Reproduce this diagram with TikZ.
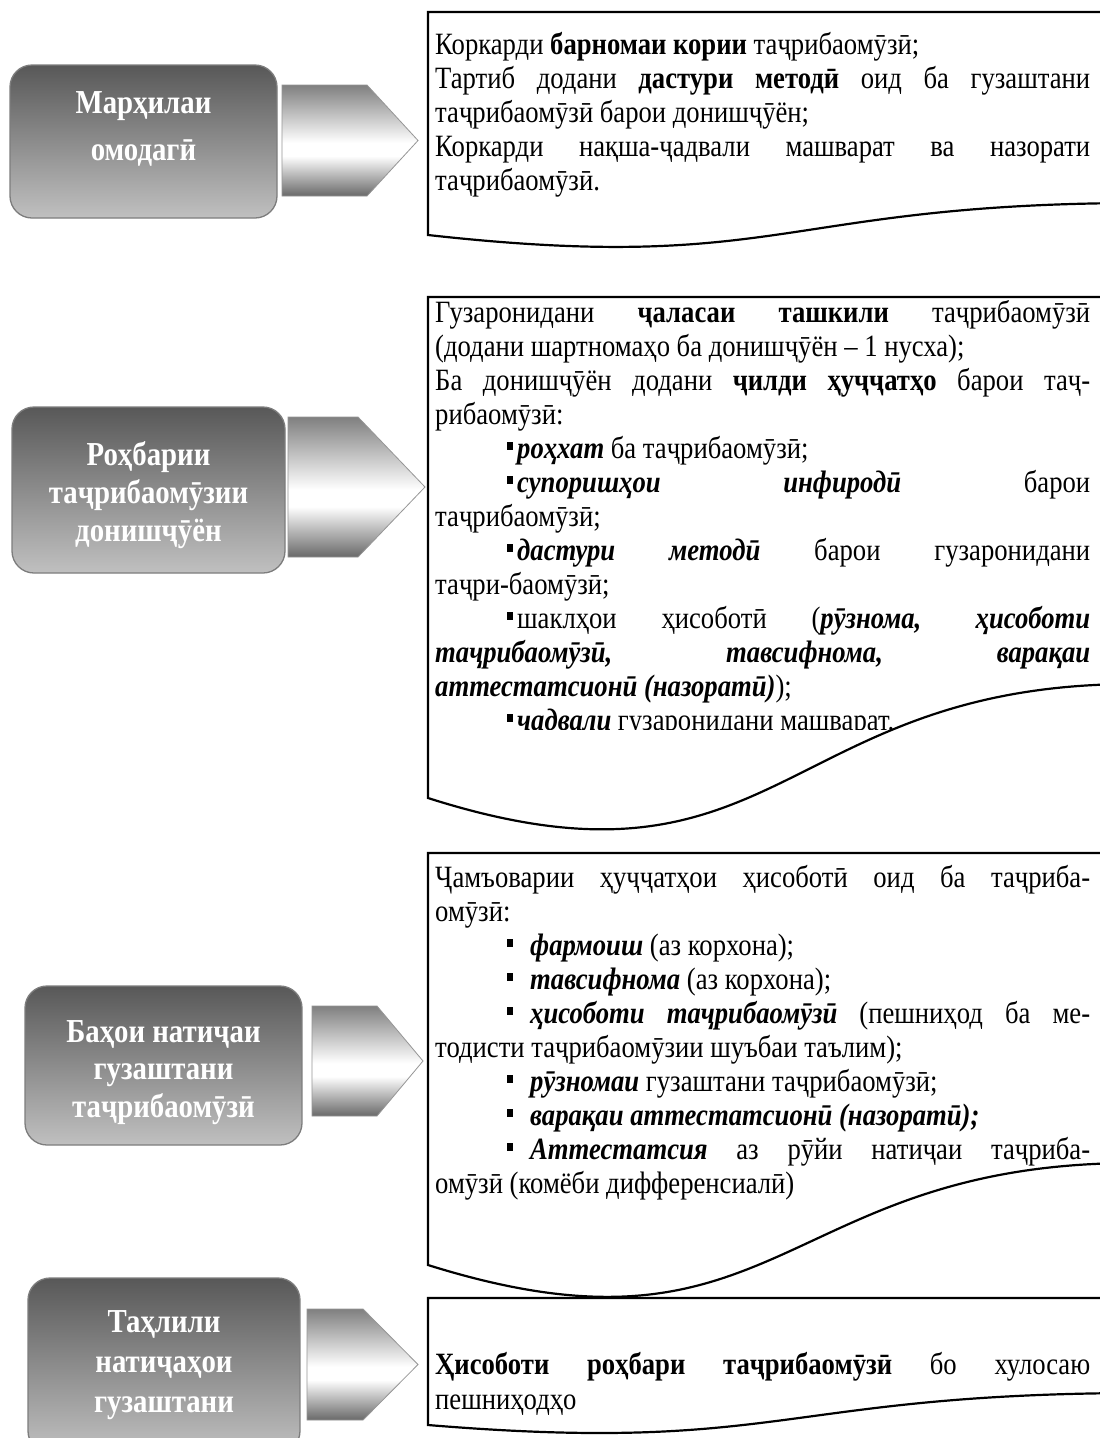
\documentclass[tikz,border=0pt]{standalone}
\usepackage{fontspec}
\setmainfont{Liberation Serif}[FakeStretch=0.86]
\definecolor{boxtop}{RGB}{88,88,88}
\definecolor{boxbot}{RGB}{192,192,192}
\definecolor{boxline}{RGB}{125,125,125}
\definecolor{arrdk}{RGB}{105,105,105}
\definecolor{arrline}{RGB}{150,150,150}
\pgfdeclareverticalshading{arrshade}{100bp}{color(0bp)=(arrdk); color(25bp)=(arrdk); color(43bp)=(white); color(49bp)=(white); color(75bp)=(arrdk!85!white); color(100bp)=(arrdk!85!white)}
\newlength\tw
\setlength\tw{655pt}
\newcommand\jl[1]{\hbox to\tw{#1}}
\newcommand\rl[1]{\hbox to\tw{#1\hfil}}
\newcommand\ind{\hspace*{72pt}}
\newcommand\sqa{\rule[8pt]{6pt}{8pt}\hspace{4pt}}
\newcommand\sqb{\rule[8pt]{6pt}{8pt}\hspace{17pt}}
\newcommand\bi[1]{{\bfseries\itshape #1}}
\newcommand\stk[1]{\vtop{\halign{\hfil##\hfil\cr#1\crcr}}}
\newcommand\para[1]{\vtop{\lineskiplimit=-30pt #1}}
\tikzset{
  stagebox/.style={draw=boxline, line width=1.3pt, rounded corners=22pt, top color=boxtop, bottom color=boxbot, inner sep=0pt},
  stagetext/.style={anchor=base, inner sep=0pt, text=white, font=\bfseries\fontsize{33.5}{#1}\selectfont},
  arrowshape/.style={draw=arrline, line width=0.8pt, shading=arrshade},
  docbox/.style={draw=black, line width=2.2pt, line join=miter},
  rtext/.style={anchor=base west, inner sep=0pt, font=\fontsize{31}{34}\selectfont}
}
\begin{document}
\begin{tikzpicture}[x=1pt,y=-1pt]
\fill[white] (0,0) rectangle (1100,1438);
\useasboundingbox (0,0) rectangle (1100,1438);

% ---------- stage boxes ----------
\node[stagebox, minimum width=267pt, minimum height=153pt] (s1) at (143.5,141.5) {};
\node[stagebox, minimum width=273pt, minimum height=166pt] (s2) at (148.5,490) {};
\node[stagebox, minimum width=277pt, minimum height=159pt] (s3) at (163.5,1065.5) {};
\node[stagebox, minimum width=272pt, minimum height=175pt] (s4) at (164,1365.5) {};

\node[stagetext=47] (t1) at (143.5,113) {\stk{Марҳилаи\cr омодагӣ}};
\node[stagetext=38] (t2) at (148.5,465) {\stk{Роҳбарии\cr таҷрибаомӯзии\cr донишҷӯён}};
\node[stagetext=37.5] (t3) at (163.5,1042) {\stk{Баҳои натиҷаи\cr гузаштани\cr таҷрибаомӯзӣ}};
\node[stagetext=40] (t4) at (164,1332) {\stk{Таҳлили\cr натиҷаҳои\cr гузаштани}};

% ---------- block arrows ----------
\path[arrowshape] (282,85) -- (367,85) -- (418,140.5) -- (367,196) -- (282,196) -- cycle;
\path[arrowshape] (288,417) -- (358,417) -- (425,487) -- (358,557) -- (288,557) -- cycle;
\path[arrowshape] (312,1006) -- (377,1006) -- (423,1061) -- (377,1116) -- (312,1116) -- cycle;
\path[arrowshape] (307,1309) -- (363,1309) -- (418,1364.5) -- (363,1420) -- (307,1420) -- cycle;

% ---------- document boxes ----------
\draw[docbox] (1130,12) -- (428,12) -- (428,235) .. controls (779,274) and (779,205) .. (1130,203) -- cycle;
\draw[docbox] (1130,297) -- (428,297) -- (428,798) .. controls (779,910) and (779,686) .. (1130,684) -- cycle;
\draw[docbox] (1130,853) -- (428,853) -- (428,1265) .. controls (779,1375) and (779,1165) .. (1130,1163) -- cycle;
\draw[docbox] (1130,1298) -- (428,1298) -- (428,1425) .. controls (779,1454) and (779,1395) .. (1130,1393) -- cycle;

% ---------- texts ----------
\node[rtext] (r1) at (435,54) {\para{%
\rl{Коркарди \textbf{барномаи кории} таҷрибаомӯзӣ;}
\jl{Тартиб додани \textbf{дастури методӣ} оид ба гузаштани}
\rl{таҷрибаомӯзӣ барои донишҷӯён;}
\jl{Коркарди нақша-ҷадвали машварат ва назорати}
\rl{таҷрибаомӯзӣ.}}};

\begin{scope}
\clip (430,300) rectangle (1100,729);
\node[rtext] (r2) at (435,322) {\para{%
\jl{Гузаронидани \textbf{ҷаласаи ташкили} таҷрибаомӯзӣ}
\rl{(додани шартномаҳо ба донишҷӯён – 1 нусха);}
\jl{Ба донишҷӯён додани \textbf{ҷилди ҳуҷҷатҳо} барои таҷ-}
\rl{рибаомӯзӣ:}
\rl{\ind\sqa\bi{роҳхат} ба таҷрибаомӯзӣ;}
\jl{\ind\sqa\bi{супоришҳои} \bi{инфиродӣ} барои}
\rl{таҷрибаомӯзӣ;}
\jl{\ind\sqa\bi{дастури} \bi{методӣ} барои гузаронидани}
\rl{таҷри-баомӯзӣ;}
\jl{\ind\sqa шаклҳои ҳисоботӣ (\bi{рӯзнома,} \bi{ҳисоботи}}
\jl{\bi{таҷрибаомӯзӣ,} \bi{тавсифнома,} \bi{варақаи}}
\rl{\bi{аттестатсионӣ (назоратӣ)});}
\rl{\ind\sqa\bi{ҷадвали} гузаронидани машварат.}}};
\end{scope}

\node[rtext] (r3) at (435,887) {\para{%
\jl{Ҷамъоварии ҳуҷҷатҳои ҳисоботӣ оид ба таҷриба-}
\rl{омӯзӣ:}
\rl{\ind\sqb\bi{фармоиш} (аз корхона);}
\rl{\ind\sqb\bi{тавсифнома} (аз корхона);}
\jl{\ind\sqb\bi{ҳисоботи} \bi{таҷрибаомӯзӣ} (пешниҳод ба ме-}
\rl{тодисти таҷрибаомӯзии шуъбаи таълим);}
\rl{\ind\sqb\bi{рӯзномаи} гузаштани таҷрибаомӯзӣ;}
\rl{\ind\sqb\bi{варақаи аттестатсионӣ (назоратӣ);}}
\jl{\ind\sqb\bi{Аттестатсия} аз рӯйи натиҷаи таҷриба-}
\rl{омӯзӣ (комёби дифференсиалӣ)}}};

\node[rtext, font=\fontsize{31}{35}\selectfont] (r4) at (435,1374) {\para{%
\jl{\textbf{Ҳисоботи} \textbf{роҳбари} \textbf{таҷрибаомӯзӣ} бо хулосаю}
\rl{пешниҳодҳо}}};
\end{tikzpicture}
\end{document}
